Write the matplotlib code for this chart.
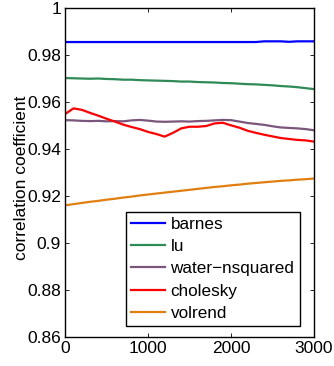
import numpy as np
import matplotlib
matplotlib.use("Agg")
import matplotlib.pyplot as plt

plt.rcParams['font.family'] = ['Liberation Sans', 'DejaVu Sans']

# sample index (every 100)
steps = list(range(0, 3001, 100))

barnes = [0.9854, 0.9854, 0.9854, 0.9854, 0.9854, 0.9854, 0.9854, 0.9854, 0.9854, 0.9854,
          0.9854, 0.9854, 0.9854, 0.9854, 0.9854, 0.9854, 0.9854, 0.9854, 0.9854, 0.9854,
          0.9854, 0.9854, 0.9854, 0.9854, 0.9857, 0.9857, 0.9857, 0.9855, 0.9857, 0.9857, 0.9857]

lu = [0.9701, 0.9700, 0.9699, 0.9698, 0.9699, 0.9697, 0.9696, 0.9694, 0.9694, 0.9692,
      0.9691, 0.9690, 0.9689, 0.9688, 0.9686, 0.9686, 0.9684, 0.9683, 0.9682, 0.9680,
      0.9679, 0.9677, 0.9675, 0.9674, 0.9672, 0.9670, 0.9667, 0.9665, 0.9662, 0.9658, 0.9654]

water_nsquared = [0.9522, 0.9521, 0.9519, 0.9518, 0.9519, 0.9517, 0.9518, 0.9517, 0.9521, 0.9523,
                  0.9520, 0.9516, 0.9515, 0.9516, 0.9517, 0.9516, 0.9518, 0.9519, 0.9521, 0.9523,
                  0.9522, 0.9516, 0.9510, 0.9506, 0.9502, 0.9496, 0.9491, 0.9489, 0.9487, 0.9484, 0.9479]

cholesky = [0.9548, 0.9572, 0.9566, 0.9553, 0.9541, 0.9528, 0.9516, 0.9503, 0.9493, 0.9484,
            0.9472, 0.9463, 0.9452, 0.9468, 0.9487, 0.9494, 0.9494, 0.9497, 0.9508, 0.9511,
            0.9500, 0.9490, 0.9477, 0.9468, 0.9460, 0.9453, 0.9446, 0.9442, 0.9438, 0.9436, 0.9431]

volrend = [0.9160, 0.9165, 0.9170, 0.9175, 0.9179, 0.9184, 0.9188, 0.9193, 0.9197, 0.9202,
           0.9206, 0.9210, 0.9214, 0.9218, 0.9222, 0.9226, 0.9230, 0.9234, 0.9238, 0.9241,
           0.9245, 0.9248, 0.9252, 0.9255, 0.9258, 0.9261, 0.9264, 0.9266, 0.9269, 0.9271, 0.9274]

names = ["barnes", "lu", "water\u2212nsquared", "cholesky", "volrend"]
colors = ["#0000ff", "#2e8b57", "#7b567b", "#ff0000", "#e07f10"]
series = [barnes, lu, water_nsquared, cholesky, volrend]

fig = plt.figure(figsize=(3.34, 3.66), dpi=100)
ax = fig.add_axes([0.195, 0.079, 0.745, 0.900])

for name, col, vals in zip(names, colors, series):
    ax.plot(steps, vals, color=col, lw=1.6, label=name)

ax.set_xlim(0, 3000)
ax.set_ylim(0.86, 1.0)
ax.set_xticks([0, 1000, 2000, 3000])
ax.set_yticks([0.86, 0.88, 0.9, 0.92, 0.94, 0.96, 0.98, 1.0])
ax.set_yticklabels(["0.86", "0.88", "0.9", "0.92", "0.94", "0.96", "0.98", "1"])
ax.tick_params(direction="in", top=True, right=True, length=3, width=0.6,
               labelsize=12.5, pad=3)
for s in ax.spines.values():
    s.set_linewidth(1.0)
ax.set_ylabel("correlation coefficient", fontsize=12.5)
ax.yaxis.set_label_coords(-0.145, 0.483)

leg = ax.legend(loc="upper left", bbox_to_anchor=(0.245, 0.38), borderaxespad=0,
                fontsize=12.3, fancybox=False, edgecolor="black", framealpha=1,
                handlelength=2.0, handletextpad=0.3, labelspacing=0.42,
                borderpad=0.3)
leg.get_frame().set_linewidth(1.0)

fig.savefig("out.png", dpi=100)
